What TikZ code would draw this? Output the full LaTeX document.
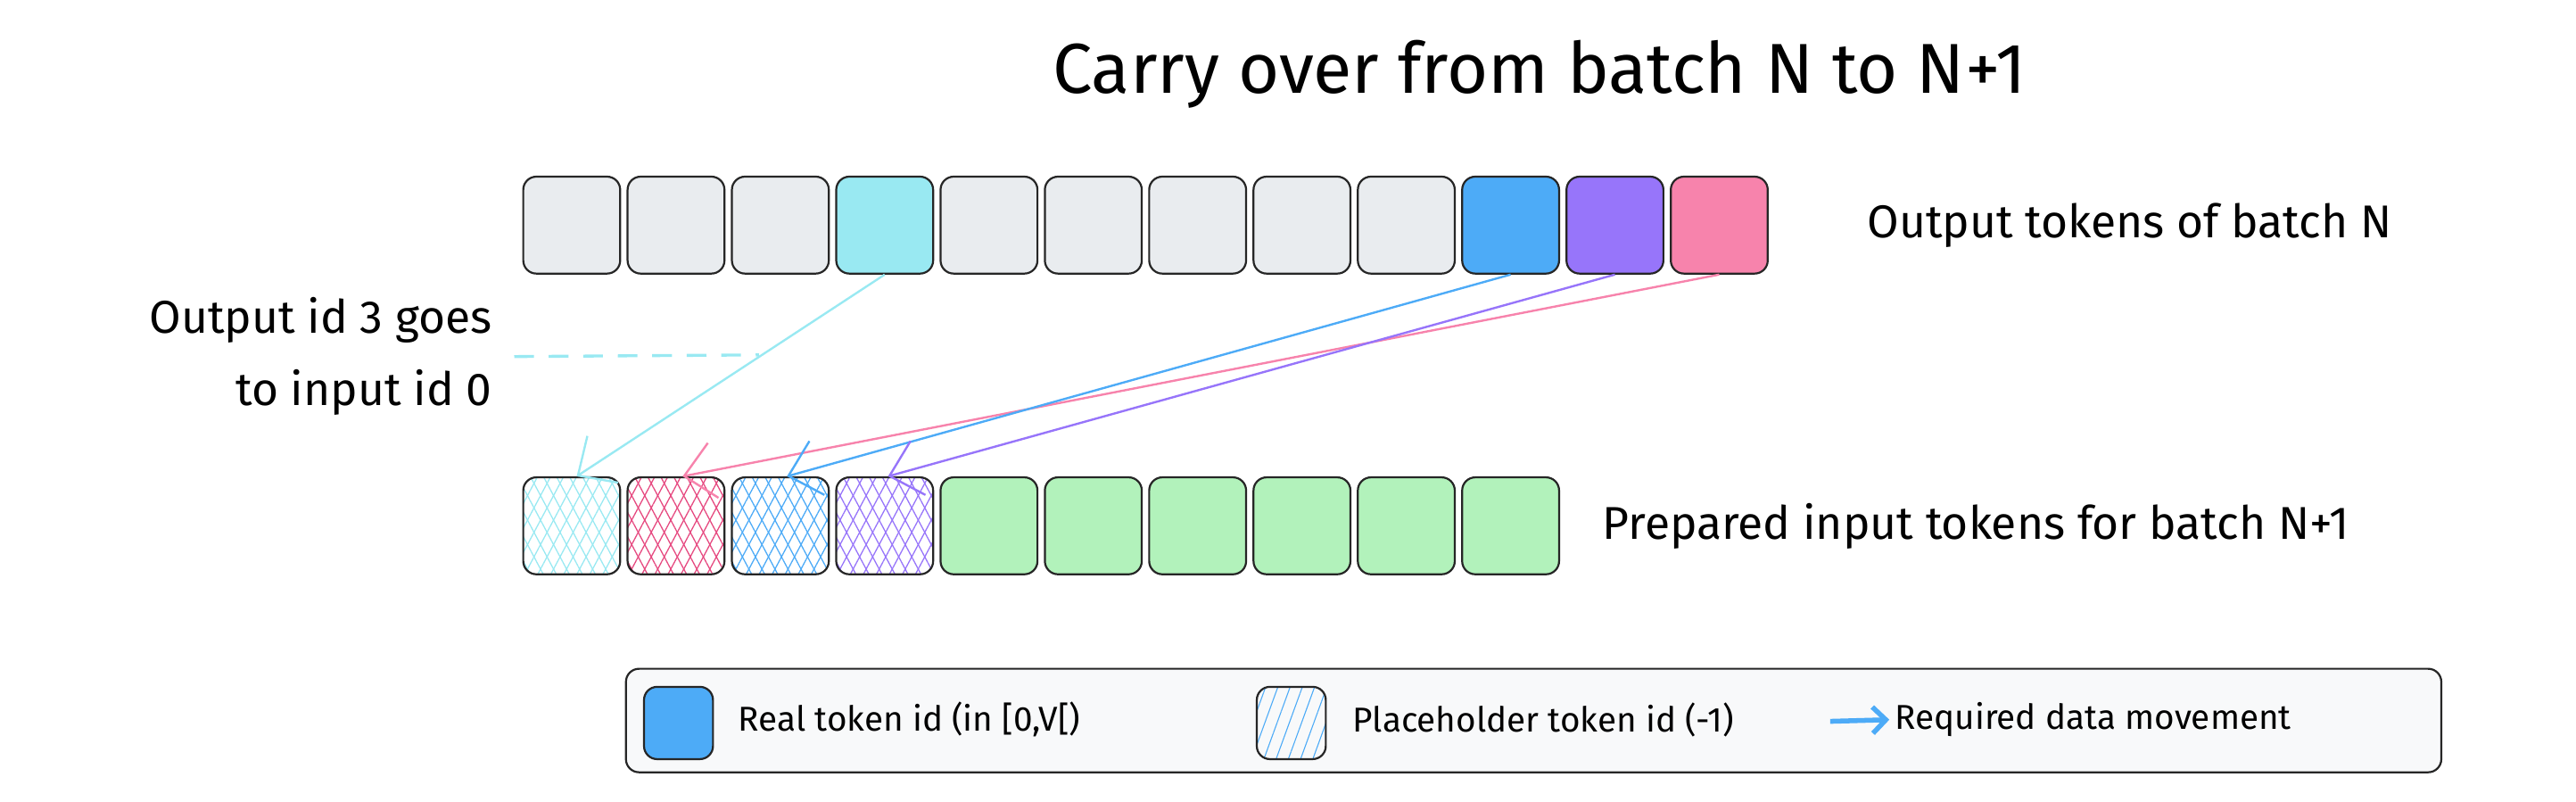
\documentclass[tikz,border=0pt]{standalone}
\usepackage{fontspec}
\setmainfont{Fira Sans}
\usetikzlibrary{positioning,arrows.meta,patterns.meta}
\definecolor{tokgray}{HTML}{E9ECEF}
\definecolor{tokcyan}{HTML}{99E9F2}
\definecolor{tokblue}{HTML}{4DABF7}
\definecolor{tokpurple}{HTML}{9775FA}
\definecolor{tokpink}{HTML}{F783AC}
\definecolor{tokred}{HTML}{E64980}
\definecolor{tokgreen}{HTML}{B2F2BB}
\definecolor{legbg}{HTML}{F8F9FA}
\tikzset{
    tok/.style={draw=black!85, line width=1.2pt, rounded corners=8pt, minimum width=59pt, minimum height=59pt, inner sep=0pt},
    hatch/.style={path picture={
        \fill[pattern={Lines[angle=62,distance=7pt,line width=0.7pt]}, pattern color=#1] (path picture bounding box.south west) rectangle (path picture bounding box.north east);
        \fill[pattern={Lines[angle=-62,distance=7pt,line width=0.7pt]}, pattern color=#1] (path picture bounding box.south west) rectangle (path picture bounding box.north east);
    }},
    move/.style={line width=1.3pt, -{Straight Barb[length=18pt,width=34pt,line width=1.3pt]}},
    lbl/.style={font=\fontsize{28}{44}\selectfont}
}
\begin{document}
\begin{tikzpicture}[x=1pt, y=-1pt]
    \useasboundingbox (0,0) rectangle (1568,488);
    \node[font=\fontsize{43}{50}\selectfont] (title) at (937,45) {Carry over from batch N to N+1};

    % output tokens of batch N
    \node[tok, fill=tokgray] (t0) at (348,137) {};
    \foreach \i/\c in {1/tokgray,2/tokgray,3/tokcyan,4/tokgray,5/tokgray,6/tokgray,7/tokgray,8/tokgray,9/tokblue,10/tokpurple,11/tokpink} {
        \pgfmathtruncatemacro{\p}{\i-1}
        \node[tok, fill=\c, right=3.3pt of t\p] (t\i) {};
    }
    \node[lbl, anchor=west] (outlbl) at (1133,137) {Output tokens of batch N};

    % prepared input tokens
    \node[tok, hatch=tokcyan] (b0) at (348,320) {};
    \node[tok, hatch=tokred, right=3.3pt of b0] (b1) {};
    \node[tok, hatch=tokblue, right=3.3pt of b1] (b2) {};
    \node[tok, hatch=tokpurple, right=3.3pt of b2] (b3) {};
    \foreach \i in {4,...,9} {
        \pgfmathtruncatemacro{\p}{\i-1}
        \node[tok, fill=tokgreen, right=3.3pt of b\p] (b\i) {};
    }
    \node[lbl, anchor=west] (inlbl) at (972,320) {Prepared input tokens for batch N+1};

    % note
    \node[lbl, anchor=east, align=right] (note) at (303,217) {Output id 3 goes\\to input id 0};
    \coordinate (noteend) at (462,216);
    \draw[tokcyan, line width=1.8pt, dash pattern=on 12pt off 9pt] ([xshift=10pt]note.east) -- (noteend);

    % data movement
    \draw[move, tokcyan] (t3.south) -- ([xshift=3pt]b0.north);
    \draw[move, tokpink] (t11.south) -- ([xshift=4pt]b1.north);
    \draw[move, tokblue] (t9.south) -- ([xshift=4pt]b2.north);
    \draw[move, tokpurple] (t10.south) -- ([xshift=2pt]b3.north);

    % legend
    \node[draw=black!85, line width=1.2pt, fill=legbg, rounded corners=8pt, minimum width=1105pt, minimum height=63pt] (legend) at (933.5,438.5) {};
    \node[tok, fill=tokblue, minimum width=42pt, minimum height=44pt] (lreal) at (413,440) {};
    \node[anchor=west, font=\fontsize{21}{24}\selectfont] (lrealtxt) at (446,438) {Real token id (in [0,V[)};
    \node[tok, minimum width=42pt, minimum height=44pt, path picture={\fill[pattern={Lines[angle=70,distance=7pt,line width=0.6pt]}, pattern color=tokblue] (path picture bounding box.south west) rectangle (path picture bounding box.north east);}] (lph) at (786,440) {};
    \node[anchor=west, font=\fontsize{21}{24}\selectfont] (lphtxt) at (820,438) {Placeholder token id (-1)};
    \coordinate (lmove) at (1114,439);
    \node[anchor=west, font=\fontsize{21}{24}\selectfont] (lmovetxt) at (1150,438) {Required data movement};
    \draw[tokblue, line width=3pt, -{Straight Barb[length=8pt,width=16pt,line width=3pt]}] (lmove) -- (lmovetxt.west);
\end{tikzpicture}
\end{document}
